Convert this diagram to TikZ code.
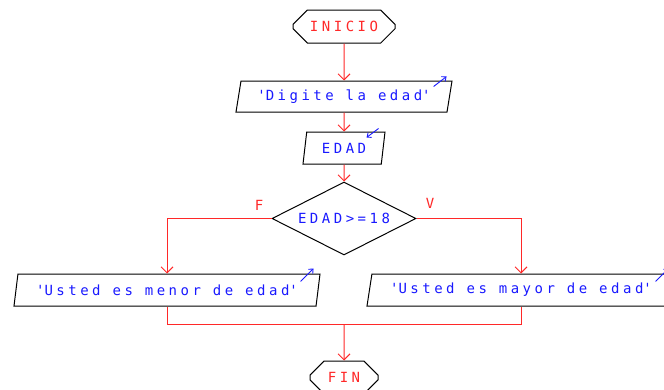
\documentclass[tikz,border=0pt]{standalone}
\usepackage{fontspec}
\usetikzlibrary{shapes.geometric,shapes.misc,arrows.meta,calc}
\newfontfamily\flowfont[LetterSpace=25]{DejaVu Sans Mono}
\definecolor{flred}{RGB}{255,40,40}
\definecolor{flblue}{RGB}{25,25,255}
\begin{document}
\begin{tikzpicture}[x=1pt,y=-1pt,
  base/.style={font=\flowfont\fontsize{14}{14}\selectfont, inner sep=0pt},
  term/.style={base, draw=black, line width=1pt, chamfered rectangle, chamfered rectangle sep=9pt, text=flred},
  io/.style={base, draw=black, line width=1pt, trapezium, trapezium left angle=70, trapezium right angle=110, trapezium stretches body, text=flblue},
  decision/.style={base, draw=black, line width=1pt, diamond, aspect=2, text=flblue},
  line/.style={draw=flred, line width=1pt},
  flow/.style={line, -{Straight Barb[length=6pt,width=12pt]}},
  iomark/.style={draw=flblue, line width=0.9pt, -{Straight Barb[length=3.5pt,width=6pt]}},
  lbl/.style={base, text=flred}]
\useasboundingbox (0,0) rectangle (664,389);
\clip (0,0) rectangle (664,389);
\fill[white] (0,0) rectangle (664,389);

\node[term, minimum width=102, minimum height=33] (ini) at (344,26.5) {INICIO};
\node[io, minimum width=216, minimum height=31] (p1) at (344,96.5) {\textquotesingle Digite la edad\textquotesingle};
\node[io, minimum width=82, minimum height=32] (p2) at (344,148) {EDAD};
\node[decision, minimum width=144, minimum height=73] (dec) at (344,218.5) {EDAD>=18};
\node[io, minimum width=306, minimum height=32] (pl) at (167,290) {\textquotesingle Usted es menor de edad\textquotesingle};
\node[io, minimum width=308, minimum height=32] (pr) at (521,290) {\textquotesingle Usted es mayor de edad\textquotesingle};
\node[term, minimum width=68, minimum height=33] (fin) at (344,377.5) {FIN};
\node[lbl] (lf) at (259,205) {F};
\node[lbl] (lv) at (430,203) {V};
\coordinate (j) at (344,324);

\draw[flow] (ini) -- (p1);
\draw[flow] (p1) -- (p2);
\draw[flow] (p2) -- (dec);
\draw[flow] (dec.west) -| (pl.north);
\draw[flow] (dec.east) -| (pr.north);
\draw[line] (pl.south) |- (j);
\draw[line] (pr.south) |- (j);
\draw[flow] (j) -- (fin);

\draw[iomark] ($(p1.top right corner)+(-19,6)$) -- ($(p1.top right corner)+(-6,-4)$);
\draw[iomark] ($(p2.top right corner)+(-7,-3)$) -- ($(p2.top right corner)+(-19,6)$);
\draw[iomark] ($(pl.top right corner)+(-20,8)$) -- ($(pl.top right corner)+(-7,-5)$);
\draw[iomark] ($(pr.top right corner)+(-20,8)$) -- ($(pr.top right corner)+(-7,-5)$);
\end{tikzpicture}
\end{document}
